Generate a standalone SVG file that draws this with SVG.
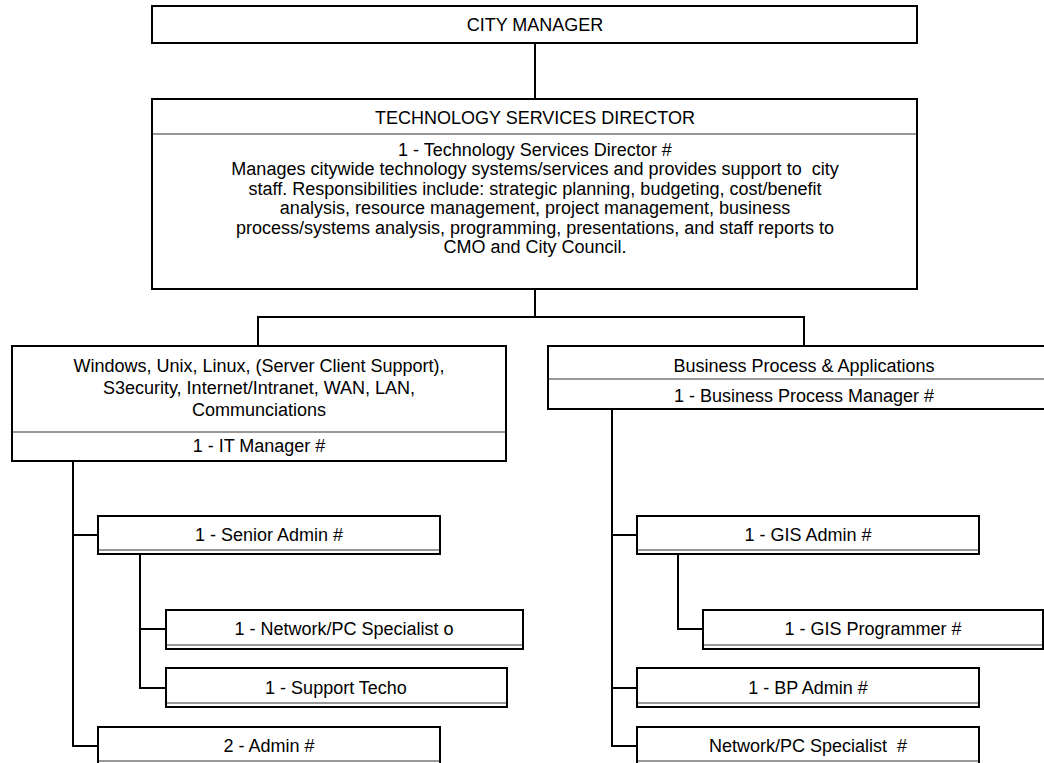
<svg xmlns="http://www.w3.org/2000/svg" width="1044" height="763" viewBox="0 0 1044 763">
<style>
.box{fill:#fff;stroke:#000;stroke-width:2}
.div{stroke:#333;stroke-width:1.2}
.conn{fill:none;stroke:#000;stroke-width:2}
text{font-family:"Liberation Sans",Arial,sans-serif;font-size:18px;text-anchor:middle;fill:#000;white-space:pre}
</style>
<rect width="1044" height="763" fill="#fff"/>
<g id="connectors">
<path class="conn" d="M535,43V99"/>
<path class="conn" d="M535,290V317M258,346V317H804V346"/>
<path class="conn" d="M73,461V746H98M73,535H98"/>
<path class="conn" d="M140,554V688H166M140,629H166"/>
<path class="conn" d="M612,409V746H637M612,535H637M612,688H637"/>
<path class="conn" d="M678,554V629H703"/>
</g>
<g id="city-manager">
<rect class="box" x="152" y="6" width="765" height="37"/>
<text x="535" y="31">CITY MANAGER</text>
</g>
<g id="director">
<rect class="box" x="152" y="99" width="765" height="190"/>
<line class="div" x1="153" y1="134" x2="916" y2="134"/>
<text x="535" y="124">TECHNOLOGY SERVICES DIRECTOR</text>
<text x="535" y="156">1 - Technology Services Director #</text>
<text x="535" y="175" xml:space="preserve">Manages citywide technology systems/services and provides support to  city</text>
<text x="535" y="195">staff. Responsibilities include: strategic planning, budgeting, cost/benefit</text>
<text x="535" y="214">analysis, resource management, project management, business</text>
<text x="535" y="234">process/systems analysis, programming, presentations, and staff reports to</text>
<text x="535" y="253">CMO and City Council.</text>
</g>
<g id="it">
<rect class="box" x="12" y="346" width="494" height="115"/>
<line class="div" x1="13" y1="432" x2="505" y2="432"/>
<text x="259" y="372">Windows, Unix, Linux, (Server Client Support),</text>
<text x="259" y="394">S3ecurity, Internet/Intranet, WAN, LAN,</text>
<text x="259" y="416">Communciations</text>
<text x="259" y="452">1 - IT Manager #</text>
</g>
<g id="bp">
<rect class="box" x="548" y="346" width="512" height="63"/>
<line class="div" x1="549" y1="379" x2="1044" y2="379"/>
<text x="804" y="372">Business Process &amp; Applications</text>
<text x="804" y="402">1 - Business Process Manager #</text>
</g>
<g id="senior-admin">
<rect class="box" x="98" y="516" width="342" height="38"/>
<line class="div" x1="99" y1="550" x2="439" y2="550"/>
<text x="269" y="541">1 - Senior Admin #</text>
</g>
<g id="network-pc-o">
<rect class="box" x="166" y="610" width="357" height="39"/>
<line class="div" x1="167" y1="645" x2="522" y2="645"/>
<text x="344" y="635">1 - Network/PC Specialist o</text>
</g>
<g id="support-techo">
<rect class="box" x="166" y="668" width="341" height="39"/>
<line class="div" x1="167" y1="703" x2="506" y2="703"/>
<text x="336" y="694">1 - Support Techo</text>
</g>
<g id="admin2">
<rect class="box" x="98" y="727" width="342" height="38"/>
<line class="div" x1="99" y1="761" x2="439" y2="761"/>
<text x="269" y="752">2 - Admin #</text>
</g>
<g id="gis-admin">
<rect class="box" x="637" y="516" width="342" height="38"/>
<line class="div" x1="638" y1="550" x2="978" y2="550"/>
<text x="808" y="541">1 - GIS Admin #</text>
</g>
<g id="gis-programmer">
<rect class="box" x="703" y="610" width="340" height="39"/>
<line class="div" x1="704" y1="645" x2="1042" y2="645"/>
<text x="873" y="635">1 - GIS Programmer #</text>
</g>
<g id="bp-admin">
<rect class="box" x="637" y="668" width="342" height="39"/>
<line class="div" x1="638" y1="703" x2="978" y2="703"/>
<text x="808" y="694">1 - BP Admin #</text>
</g>
<g id="network-pc-hash">
<rect class="box" x="637" y="727" width="342" height="38"/>
<line class="div" x1="638" y1="761" x2="978" y2="761"/>
<text x="808" y="752" xml:space="preserve">Network/PC Specialist  #</text>
</g>
</svg>
